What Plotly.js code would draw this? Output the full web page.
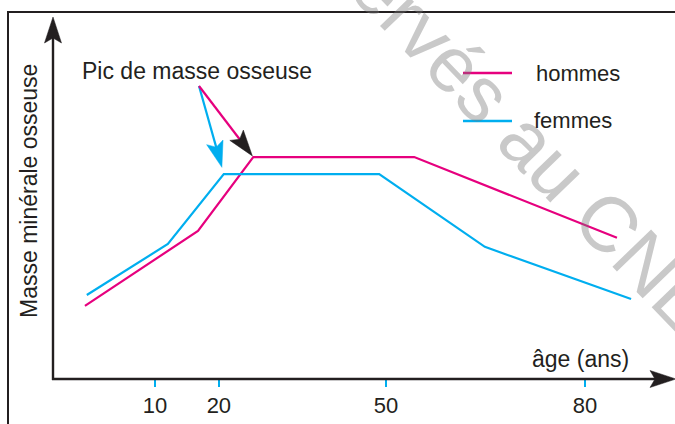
<!DOCTYPE html>
<html>
<head>
<meta charset="utf-8">
<script src="https://cdn.plot.ly/plotly-3.0.1.min.js"></script>
<style>html,body{margin:0;padding:0;background:#fff;}#chart{width:675px;height:424px;}</style>
</head>
<body>
<div id="chart"></div>
<script>
// ---- Data (schematic axis units; tick labels give ages) ----
const ageTickLabels = ['10', '20', '50', '80'];
const ageTickPos = [10, 20.4, 47.6, 80];
const hommesX = [-1.4, 17.0, 26.0, 52.2, 85.2];
const hommesY = [20.2, 40.9, 61.3, 61.3, 39.0];
const femmesX = [-1.1, 12.1, 21.2, 46.5, 63.7, 87.5];
const femmesY = [23.2, 37.3, 56.6, 56.6, 36.5, 22.1];
const seriesNames = ['hommes', 'femmes'];
const peakLabel = 'Pic de masse osseuse';
const xLabel = 'âge (ans)';
const yLabel = 'Masse minérale osseuse';
const watermark = 'réservés au CNED';

// ---- Layout geometry ----
const W = 675, H = 424;
const M = {l: 53, r: 0, t: 17, b: 45};
const PW = W - M.l - M.r, PH = H - M.t - M.b;
const xRange = [-6.6, 94.65], yRange = [0, 100];
const MAG = '#e6007e', CYA = '#00aeef', INK = '#231f20';
const FONT = 'Arial, "Liberation Sans", sans-serif';

function xPx(x) { return M.l + (x - xRange[0]) / (xRange[1] - xRange[0]) * PW; }
function yPx(y) { return M.t + PH - (y - yRange[0]) / (yRange[1] - yRange[0]) * PH; }
function pX(px) { return (px - M.l) / PW; }
function pY(py) { return (M.t + PH - py) / PH; }

const shapes = [];
function line(x0, y0, x1, y1, color, w) {
  shapes.push({type: 'line', xref: 'paper', yref: 'paper', x0: pX(x0), y0: pY(y0), x1: pX(x1), y1: pY(y1),
    line: {color: color, width: w}});
}
// arrow from tail (px) toward target (px), tip pulled back by standoff
function arrow(tx0, ty0, tx1, ty1, standoff, shaftColor, headColor, w) {
  const dx = tx1 - tx0, dy = ty1 - ty0, d = Math.hypot(dx, dy);
  const ux = dx / d, uy = dy / d, nx = -uy, ny = ux;
  const tipx = tx1 - ux * standoff, tipy = ty1 - uy * standoff;
  const Lh = 26, hw = 8.5, notch = 21;
  const bx = tipx - ux * Lh, by = tipy - uy * Lh;
  const nX = tipx - ux * notch, nY = tipy - uy * notch;
  line(tx0, ty0, nX + ux * 1, nY + uy * 1, shaftColor, w);
  const pts = [[tipx, tipy], [bx + nx * hw, by + ny * hw], [nX, nY], [bx - nx * hw, by - ny * hw]];
  const path = 'M' + pts.map(p => pX(p[0]).toFixed(5) + ',' + pY(p[1]).toFixed(5)).join('L') + 'Z';
  shapes.push({type: 'path', xref: 'paper', yref: 'paper', path: path,
    fillcolor: headColor, line: {color: headColor, width: 0.5}});
}

// frame
shapes.push({type: 'rect', xref: 'paper', yref: 'paper', x0: pX(8), y0: pY(12), x1: pX(720), y1: pY(470),
  line: {color: INK, width: 2}, fillcolor: 'rgba(0,0,0,0)'});
// axes with arrows
arrow(53, 380, 53, 17, 0, INK, INK, 2.4);
arrow(52, 379, 676, 379, 0, INK, INK, 2.4);
// peak pointers
const tail = [199, 86];
arrow(tail[0], tail[1], xPx(femmesX[2]), yPx(femmesY[2]), 7, CYA, CYA, 2.2);
arrow(tail[0], tail[1], xPx(hommesX[2]), yPx(hommesY[2]), 1.5, MAG, INK, 2.2);
// legend samples
line(463, 73, 512, 73, MAG, 2.4);
line(463, 121, 512, 121, CYA, 2.4);

const annotations = [
  {text: watermark, xref: 'paper', yref: 'paper', x: pX(516), y: pY(128), xanchor: 'center', yanchor: 'middle',
   textangle: 46, showarrow: false, font: {family: FONT, size: 78, color: 'rgba(120,120,120,0.40)'}},
  {text: peakLabel, xref: 'paper', yref: 'paper', x: pX(80), y: pY(71), xanchor: 'left', yanchor: 'middle',
   showarrow: false, font: {family: FONT, size: 23, color: INK}},
  {text: seriesNames[0], xref: 'paper', yref: 'paper', x: pX(534), y: pY(73), xanchor: 'left', yanchor: 'middle',
   showarrow: false, font: {family: FONT, size: 22, color: INK}},
  {text: seriesNames[1], xref: 'paper', yref: 'paper', x: pX(532), y: pY(120), xanchor: 'left', yanchor: 'middle',
   showarrow: false, font: {family: FONT, size: 22, color: INK}},
  {text: xLabel, xref: 'paper', yref: 'paper', x: pX(530), y: pY(359), xanchor: 'left', yanchor: 'middle',
   showarrow: false, font: {family: FONT, size: 23, color: INK}},
  {text: yLabel, xref: 'paper', yref: 'paper', x: pX(29), y: pY(191), xanchor: 'center', yanchor: 'middle',
   textangle: -90, showarrow: false, font: {family: FONT, size: 23, color: INK}}
];

const traces = [
  {x: hommesX, y: hommesY, name: seriesNames[0], mode: 'lines', line: {color: MAG, width: 2.2}},
  {x: femmesX, y: femmesY, name: seriesNames[1], mode: 'lines', line: {color: CYA, width: 2.2}}
];

const layout = {
  width: W, height: H, autosize: false,
  margin: {l: M.l, r: M.r, t: M.t, b: M.b, pad: 0},
  paper_bgcolor: '#fff', plot_bgcolor: '#fff',
  showlegend: false,
  xaxis: {range: xRange, tickmode: 'array', tickvals: ageTickPos, ticktext: ageTickLabels,
    ticks: 'outside', ticklen: 7, tickwidth: 2.5, tickcolor: CYA, showgrid: false, zeroline: false,
    showline: false, fixedrange: true, tickfont: {family: FONT, size: 22, color: INK}},
  yaxis: {range: yRange, showgrid: false, zeroline: false, showline: false, showticklabels: false,
    ticks: '', fixedrange: true},
  shapes: shapes,
  annotations: annotations
};

Plotly.newPlot('chart', traces, layout, {displayModeBar: false, staticPlot: true});
</script>
</body>
</html>
